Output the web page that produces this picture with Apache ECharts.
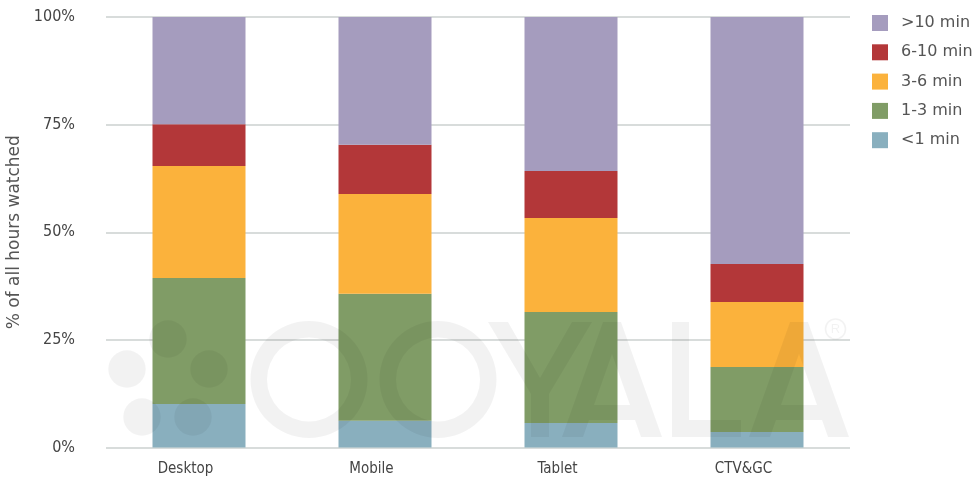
<!DOCTYPE html>
<html>
<head>
<meta charset="utf-8">
<script src="https://cdn.jsdelivr.net/npm/echarts@6/dist/echarts.min.js"></script>
<style>html,body{margin:0;padding:0;background:#fff}#c{width:977px;height:479px}</style>
</head>
<body>
<div id="c"></div>
<script>
const categories = ['Desktop', 'Mobile', 'Tablet', 'CTV&GC'];
const under1 = [10.1, 6.2, 5.7, 3.6];
const min1to3 = [29.3, 29.5, 25.8, 15.1];
const min3to6 = [26.0, 23.2, 21.8, 15.1];
const min6to10 = [9.7, 11.4, 10.9, 8.8];
const over10 = [24.9, 29.7, 35.8, 57.4];
const yTicks = [0, 25, 50, 75, 100];

const chart = echarts.init(document.getElementById('c'));
const wm = 'rgba(0,0,0,0.052)';
const narrow = '"Liberation Sans Narrow","DejaVu Sans Condensed",sans-serif';
const dots = [[127,369],[168,339],[209,369],[142,417],[193,417]];
const graphics = [];
dots.forEach(d => graphics.push({type:'circle', shape:{cx:d[0], cy:d[1], r:18.7}, style:{fill:wm}, z:100, silent:true}));
[[309,379.5],[438,379.5]].forEach(c => graphics.push({type:'ring', shape:{cx:c[0], cy:c[1], r:58.5, r0:42}, style:{fill:wm}, z:100, silent:true}));
// Y
graphics.push({type:'polygon', shape:{points:[[488,322],[508,322],[540,378],[572,322],[592,322],[549,394],[549,437],[531,437],[531,394]]}, style:{fill:wm}, z:100, silent:true});
// A (two), drawn as two mirrored halves so the hole stays open
function aHalf(l, dir){
  const m = l + 50;
  const half = [[-50,437],[-9,322],[0,322],[0,354],[-18,405],[0,405],[0,420],[-23,420],[-29,437]];
  return half.map(p => [m + dir * p[0], p[1]]);
}
[562,749].forEach(l => {
  graphics.push({type:'polygon', shape:{points:aHalf(l, 1)}, style:{fill:wm}, z:100, silent:true});
  graphics.push({type:'polygon', shape:{points:aHalf(l, -1)}, style:{fill:wm}, z:100, silent:true});
});
// L
graphics.push({type:'polygon', shape:{points:[[672,322],[689,322],[689,420],[741,420],[741,437],[672,437]]}, style:{fill:wm}, z:100, silent:true});
// registered mark
graphics.push({type:'circle', shape:{cx:835.5, cy:329, r:10}, style:{fill:'none', stroke:wm, lineWidth:1.6}, z:100, silent:true});
graphics.push({type:'text', x:835.5, y:329.5, style:{text:'R', fill:wm, font:'13px "Liberation Sans"', align:'center', verticalAlign:'middle'}, z:100, silent:true});

function bar(name, data, color){
  return {name, type:'bar', stack:'t', data, barWidth:'50%', itemStyle:{color}, emphasis:{disabled:true}};
}

chart.setOption({
  animation:false,
  grid:{left:106, right:127, top:17, bottom:31.5, containLabel:false, outerBoundsMode:'none'},
  legend:{
    orient:'vertical', left:872, top:15, padding:0, itemWidth:16, itemHeight:16, itemGap:13.3,
    icon:'rect',
    data:['>10 min','6-10 min','3-6 min','1-3 min','<1 min'],
    textStyle:{fontFamily:'DejaVu Sans', fontSize:16, color:'#555', padding:[0,0,0,8]}
  },
  xAxis:{
    type:'category', data:categories,
    axisLine:{show:false}, axisTick:{show:false},
    axisLabel:{fontFamily:narrow, fontSize:15, color:'#444', margin:14, padding:[0,27,0,0]}
  },
  yAxis:{
    type:'value', min:0, max:100, interval:25,
    name:'% of all hours watched', nameLocation:'middle', nameGap:74, nameRotate:90,
    nameTextStyle:{fontFamily:'DejaVu Sans', fontSize:17, color:'#555'},
    axisLine:{show:false}, axisTick:{show:false},
    splitLine:{lineStyle:{color:'#d8dcdb', width:2}},
    axisLabel:{formatter: v => yTicks.includes(v) ? v + '%' : '', fontFamily:narrow, fontSize:16, color:'#444', margin:31, padding:[4,0,0,0]}
  },
  graphic:graphics,
  series:[
    bar('<1 min', under1, '#89afbe'),
    bar('1-3 min', min1to3, '#809c66'),
    bar('3-6 min', min3to6, '#fbb23c'),
    bar('6-10 min', min6to10, '#b33739'),
    bar('>10 min', over10, '#a59cbe')
  ]
});
</script>
</body>
</html>
